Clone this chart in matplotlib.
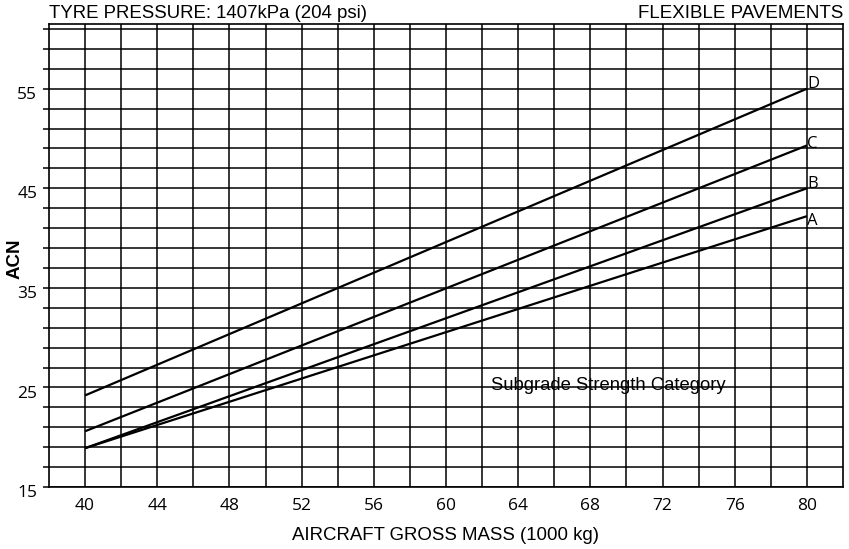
import numpy as np
import matplotlib.pyplot as plt
import matplotlib.transforms as mtransforms

# aircraft gross mass (1000 kg) at the ends of each line
mass = [40, 80]

# ACN per subgrade strength category
acn_a = [18.9, 42.2]
acn_b = [18.9, 45.0]
acn_c = [20.6, 49.3]
acn_d = [24.2, 55.0]

categories = ["A", "B", "C", "D"]
x_ticks = [40, 44, 48, 52, 56, 60, 64, 68, 72, 76, 80]
y_ticks = [15, 25, 35, 45, 55]

fig = plt.figure(figsize=(8.49, 5.49), dpi=100)
ax = fig.add_axes([49 / 849, 1 - 487 / 549, (843 - 49) / 849, (487 - 24) / 549])

for vals in [acn_a, acn_b, acn_c, acn_d]:
    ax.plot(mass, vals, color="black", lw=1.6, solid_capstyle="butt", zorder=3)

# end labels (small vertical nudges so they sit like the original)
nudges = {"A": -0.45, "B": 0.4, "C": 0.15, "D": 0.45}
for vals, name in zip([acn_a, acn_b, acn_c, acn_d], categories):
    ax.text(80.0, vals[1] + nudges[name], name, ha="left", va="center",
            fontsize=12, family="Open Sans", zorder=4)

ax.text(62.5, 25.2, "Subgrade Strength Category", ha="left", va="center",
        fontsize=13.3, family="Liberation Sans", zorder=4)

ax.set_xlim(38, 82)
ax.set_ylim(15, 61.5)

ax.set_xticks(x_ticks)
ax.set_xticks(np.arange(42, 80, 4), minor=True)
ax.set_yticks(y_ticks)
ax.set_yticks(np.arange(17, 62, 2), minor=True)

ax.grid(True, which="both", color="black", lw=1.1)
ax.set_axisbelow(True)

ax.tick_params(axis="x", which="both", length=0, pad=8, labelsize=12.5)
ax.tick_params(axis="y", which="both", length=4.5, width=1.1, direction="out",
               pad=4, labelsize=12.5)
for lab in ax.get_xticklabels() + ax.get_yticklabels():
    lab.set_family("Open Sans")

# y labels sit a few px below their gridline in the original
shift = mtransforms.ScaledTranslation(0, -3 / 72, fig.dpi_scale_trans)
for lab in ax.get_yticklabels():
    lab.set_transform(lab.get_transform() + shift)

for s in ax.spines.values():
    s.set_linewidth(1.2)

ax.set_xlabel("AIRCRAFT GROSS MASS (1000 kg)", fontsize=13.4, family="Liberation Sans", labelpad=9)

fig.text(15 / 849, 1 - 259 / 549, "ACN", rotation=90, ha="center", va="center",
         fontsize=13.5, fontweight="bold", family="Liberation Sans")

fig.text(49 / 849, 1 - 14 / 549, "TYRE PRESSURE: 1407kPa (204 psi)", ha="left", va="center",
         fontsize=13.4, family="Liberation Sans")
fig.text(843 / 849, 1 - 14 / 549, "FLEXIBLE PAVEMENTS", ha="right", va="center",
         fontsize=13.5, family="Liberation Sans")

fig.savefig("out.png", dpi=100)
